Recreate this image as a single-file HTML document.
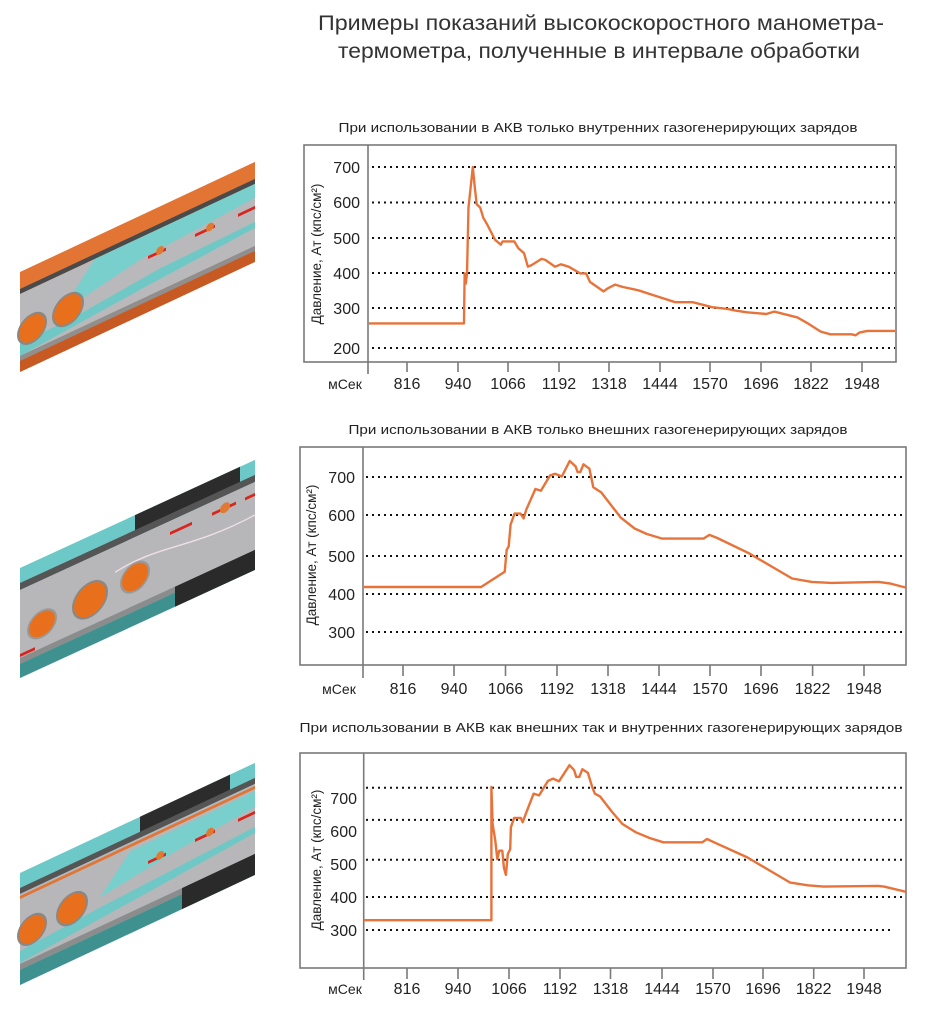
<!DOCTYPE html>
<html><head><meta charset="utf-8"><style>
html,body{margin:0;padding:0;background:#fff}
svg{display:block}
text{font-family:"Liberation Sans",sans-serif;fill:#222}
.t{font-size:16px}
.g{stroke:#111;stroke-width:2;stroke-dasharray:2 4;fill:none}
.s{stroke:#e8733a;stroke-width:2.4;fill:none;stroke-linejoin:round}
.f{stroke:#7a7a7a;stroke-width:1.6;fill:none}
</style></head><body>
<svg width="938" height="1012" viewBox="0 0 938 1012" xmlns="http://www.w3.org/2000/svg">
<rect width="938" height="1012" fill="#fff"/>
<text x="601" y="30" font-size="21" text-anchor="middle" textLength="566" lengthAdjust="spacingAndGlyphs" style="fill:#333">Примеры показаний высокоскоростного манометра-</text>
<text x="599" y="58" font-size="21" text-anchor="middle" textLength="522" lengthAdjust="spacingAndGlyphs" style="fill:#333">термометра, полученные в интервале обработки</text>
<text x="598" y="132" font-size="13" text-anchor="middle" textLength="519" lengthAdjust="spacingAndGlyphs">При использовании в АКВ только внутренних газогенерирующих зарядов</text>
<text x="598" y="434" font-size="13" text-anchor="middle" textLength="499" lengthAdjust="spacingAndGlyphs">При использовании в АКВ только внешних газогенерирующих зарядов</text>
<text x="601" y="732" font-size="13" text-anchor="middle" textLength="603" lengthAdjust="spacingAndGlyphs">При использовании в АКВ как внешних так и внутренних газогенерирующих зарядов</text>

<!-- Chart 1 -->
<rect x="304" y="145" width="592" height="217" class="f"/>
<line x1="368" y1="145" x2="368" y2="374" class="f"/>
<g class="g"><line x1="372" y1="167" x2="895" y2="167"/><line x1="372" y1="202.5" x2="895" y2="202.5"/><line x1="372" y1="238" x2="895" y2="238"/><line x1="372" y1="273" x2="895" y2="273"/><line x1="372" y1="308" x2="895" y2="308"/><line x1="372" y1="348" x2="895" y2="348"/></g>
<g class="t" text-anchor="end"><text x="360" y="173">700</text><text x="360" y="208">600</text><text x="360" y="244">500</text><text x="360" y="279">400</text><text x="360" y="314">300</text><text x="360" y="354">200</text></g>
<g class="f"><line x1="407" y1="362" x2="407" y2="372"/><line x1="458" y1="362" x2="458" y2="372"/><line x1="508" y1="362" x2="508" y2="372"/><line x1="559" y1="362" x2="559" y2="372"/><line x1="609" y1="362" x2="609" y2="372"/><line x1="660" y1="362" x2="660" y2="372"/><line x1="710" y1="362" x2="710" y2="372"/><line x1="761" y1="362" x2="761" y2="372"/><line x1="811" y1="362" x2="811" y2="372"/><line x1="862" y1="362" x2="862" y2="372"/></g>
<g class="t" text-anchor="middle"><text x="345" y="389" font-size="14">мСек</text><text x="407" y="389">816</text><text x="458" y="389">940</text><text x="508" y="389">1066</text><text x="559" y="389">1192</text><text x="609" y="389">1318</text><text x="660" y="389">1444</text><text x="710" y="389">1570</text><text x="761" y="389">1696</text><text x="811" y="389">1822</text><text x="862" y="389">1948</text></g>
<text transform="translate(321,254) rotate(-90)" font-size="13.5" text-anchor="middle">Давление, Ат (кпс/см²)</text>
<g transform="translate(369,0) scale(0.985,1) translate(-369,0)">
<polyline class="s" points="369,323.4 465.4,323.4 466.1,273.4 467.3,283.6 468.5,273.4 470,207.6 474.4,167 476.4,187.3 478.3,204.2 481.9,207.6 485,217.7 489,224.5 496.9,239.7 502.8,244.7 504.7,241.4 516.5,241.4 520.5,248.1 526.4,253.2 530.3,266.7 534.3,265 544.1,258.9 548,259.9 557.9,266.7 563.8,264.3 571.7,266.7 583.5,273.4 589.4,273.4 593.3,281.9 603.1,288.6 607.1,291.4 611,288.6 618.9,284.6 626.8,287 642.5,290.3 658.3,295.4 679.9,302.2 697.6,302.2 717.3,307.2 733.1,308.9 740.9,310.6 752.8,312.3 772.4,314 780.3,311.6 803.9,317.4 815.7,324.1 827.6,331.6 837.4,334.3 859.1,334.3 863,335.3 866.9,332.6 874.8,330.9 903,330.9"/>
</g>

<!-- Chart 2 -->
<rect x="300" y="447" width="606" height="218" class="f"/>
<line x1="363" y1="447" x2="363" y2="678" class="f"/>
<g class="g"><line x1="366" y1="477" x2="905" y2="477"/><line x1="366" y1="515" x2="905" y2="515"/><line x1="366" y1="556" x2="905" y2="556"/><line x1="366" y1="594" x2="905" y2="594"/><line x1="366" y1="632" x2="905" y2="632"/></g>
<g class="t" text-anchor="end"><text x="355" y="483">700</text><text x="355" y="521">600</text><text x="355" y="562">500</text><text x="355" y="600">400</text><text x="355" y="638">300</text></g>
<g class="f"><line x1="403" y1="665" x2="403" y2="676"/><line x1="454" y1="665" x2="454" y2="676"/><line x1="505.5" y1="665" x2="505.5" y2="676"/><line x1="557" y1="665" x2="557" y2="676"/><line x1="608" y1="665" x2="608" y2="676"/><line x1="659" y1="665" x2="659" y2="676"/><line x1="710" y1="665" x2="710" y2="676"/><line x1="761" y1="665" x2="761" y2="676"/><line x1="812.6" y1="665" x2="812.6" y2="676"/><line x1="864" y1="665" x2="864" y2="676"/></g>
<g class="t" text-anchor="middle"><text x="339" y="694" font-size="14">мСек</text><text x="403" y="694">816</text><text x="454" y="694">940</text><text x="505.5" y="694">1066</text><text x="557" y="694">1192</text><text x="608" y="694">1318</text><text x="659" y="694">1444</text><text x="710" y="694">1570</text><text x="761" y="694">1696</text><text x="812.6" y="694">1822</text><text x="864" y="694">1948</text></g>
<text transform="translate(316,555) rotate(-90)" font-size="13.5" text-anchor="middle">Давление, Ат (кпс/см²)</text>
<polyline class="s" points="363,587 481.1,587 504.7,571.8 506.7,549.8 508.7,546.4 510.6,524.5 514.6,513.6 520.5,513.6 523.6,518.4 526.4,509.3 535.4,489 540.9,490.7 550,475.5 555.1,473.8 561.8,476.5 569.7,461 575.6,466.4 577.6,472.1 580.3,472.1 583.5,464.3 589.4,468.7 593.3,487.3 601.2,492.4 613,507.6 620.9,517.7 634.6,528.5 646.5,533.9 662.2,538.6 703.5,538.6 709.4,534.9 717.3,538 748.8,553.2 792.1,578.5 811.8,581.9 831.5,582.9 878.7,581.9 890.6,583.6 906,587.6"/>

<!-- Chart 3 -->
<rect x="300" y="753" width="606" height="215" class="f"/>
<line x1="363.7" y1="753" x2="363.7" y2="980" class="f"/>
<g class="g"><line x1="366" y1="787.7" x2="905" y2="787.7"/><line x1="366" y1="819.9" x2="905" y2="819.9"/><line x1="366" y1="859.8" x2="905" y2="859.8"/><line x1="366" y1="897" x2="905" y2="897"/><line x1="366" y1="930" x2="890" y2="930"/></g>
<g class="t" text-anchor="end"><text x="357" y="804">700</text><text x="357" y="837">600</text><text x="357" y="870">500</text><text x="357" y="903">400</text><text x="357" y="936">300</text></g>
<g class="f"><line x1="407" y1="968" x2="407" y2="979"/><line x1="458" y1="968" x2="458" y2="979"/><line x1="509" y1="968" x2="509" y2="979"/><line x1="560" y1="968" x2="560" y2="979"/><line x1="610.5" y1="968" x2="610.5" y2="979"/><line x1="662" y1="968" x2="662" y2="979"/><line x1="713" y1="968" x2="713" y2="979"/><line x1="763" y1="968" x2="763" y2="979"/><line x1="813.7" y1="968" x2="813.7" y2="979"/><line x1="864" y1="968" x2="864" y2="979"/></g>
<g class="t" text-anchor="middle"><text x="345" y="994" font-size="14">мСек</text><text x="407" y="994">816</text><text x="458" y="994">940</text><text x="509" y="994">1066</text><text x="560" y="994">1192</text><text x="610.5" y="994">1318</text><text x="662" y="994">1444</text><text x="713" y="994">1570</text><text x="763" y="994">1696</text><text x="813.7" y="994">1822</text><text x="864" y="994">1948</text></g>
<text transform="translate(321,860) rotate(-90)" font-size="13.5" text-anchor="middle">Давление, Ат (кпс/см²)</text>
<polyline class="s" points="363.7,920.2 491.4,920.2 491.4,787 492.6,823.9 495.3,840.7 497.3,859.1 499.2,850.7 502.3,850.7 503.9,867.5 505.9,874.9 507.8,854.1 510.2,849.1 510.9,827.2 514.1,817.9 520.7,817.9 522.7,822.2 525.8,813.8 533.6,793.7 539.1,795.4 548,780.9 553.1,778.6 559,781.3 569.5,765.2 574.2,770.2 576.2,776.9 579.3,776.9 582.4,769.2 587.9,772.9 592.2,787 594.9,793.7 600,796.4 611.7,811.5 622.3,823.9 635.9,832.3 649.6,838 663.3,842.3 702.3,842.3 707,839 714.1,842.3 747.3,857.4 790.2,882.6 807.8,885.3 823.4,886.6 878.1,885.9 884,886.6 905.5,891.7"/>

<!-- Illustration 1 -->
<g transform="translate(20,272) skewY(-25.1)">
<rect x="0" y="0" width="235" height="100" fill="#e27434"/>
<rect x="0" y="17" width="235" height="5" fill="#4a4a4a"/>
<rect x="0" y="22" width="235" height="62" fill="#b9b9bb"/>
<polygon points="75,22 235,22 235,36 120,44 40,60" fill="#78cfcc"/>
<polygon points="0,72 60,70 140,62 235,60 235,66 120,74 0,84" fill="#70c8c6"/>
<rect x="0" y="84" width="235" height="5" fill="#8f8f8f"/>
<rect x="0" y="89" width="235" height="11" fill="#c75a22"/>
<ellipse cx="12" cy="62" rx="14" ry="14" fill="#e8701c" stroke="#888" stroke-width="2"/>
<ellipse cx="48" cy="60" rx="15" ry="15" fill="#e8701c" stroke="#888" stroke-width="2"/>
<g fill="#d8261e"><rect x="128" y="44" width="18" height="3"/><rect x="175" y="44" width="20" height="3"/><rect x="218" y="44" width="17" height="3"/></g>
<g fill="#e07a30"><circle cx="140" cy="44" r="4"/><circle cx="190" cy="44" r="4"/></g>
</g>

<!-- Illustration 2 -->
<g transform="translate(20,568) skewY(-24.7)">
<rect x="0" y="0" width="235" height="110" fill="#6cc9c7"/>
<rect x="115" y="0" width="105" height="16" fill="#2c2c2c"/>
<rect x="0" y="15" width="235" height="7" fill="#555"/>
<rect x="0" y="22" width="235" height="68" fill="#b7b7b9"/>
<path d="M95,48 C140,40 170,60 235,55" stroke="#f0e0e8" stroke-width="1.5" fill="none"/>
<rect x="0" y="90" width="235" height="6" fill="#8c8c8c"/>
<rect x="0" y="96" width="235" height="14" fill="#3f9190"/>
<rect x="155" y="90" width="80" height="20" fill="#2a2a2a"/>
<ellipse cx="22" cy="66" rx="14" ry="13" fill="#e8701c" stroke="#999" stroke-width="2"/>
<ellipse cx="70" cy="64" rx="17" ry="17" fill="#e8701c" stroke="#888" stroke-width="2"/>
<ellipse cx="115" cy="62" rx="14" ry="14" fill="#e8701c" stroke="#999" stroke-width="2"/>
<g fill="#d8261e"><rect x="150" y="33" width="22" height="3"/><rect x="192" y="33" width="24" height="3"/><rect x="225" y="33" width="10" height="3"/><rect x="0" y="86" width="15" height="3"/></g>
<circle cx="205" cy="34" r="5" fill="#e07a30"/>
</g>

<!-- Illustration 3 -->
<g transform="translate(20,873) skewY(-25.1)">
<rect x="0" y="0" width="235" height="112" fill="#6cc9c7"/>
<rect x="120" y="0" width="90" height="16" fill="#2c2c2c"/>
<rect x="0" y="15" width="235" height="6" fill="#555"/>
<rect x="0" y="21" width="235" height="70" fill="#b7b7b9"/>
<rect x="0" y="23" width="235" height="3" fill="#e27434"/>
<polygon points="110,30 235,28 235,44 150,52 80,62" fill="#78cfcc"/>
<polygon points="0,78 80,72 235,64 235,70 120,80 0,90" fill="#70c8c6"/>
<rect x="0" y="91" width="235" height="6" fill="#8c8c8c"/>
<rect x="0" y="97" width="235" height="15" fill="#3f9190"/>
<rect x="162" y="91" width="73" height="21" fill="#2a2a2a"/>
<ellipse cx="12" cy="62" rx="14" ry="14" fill="#e8701c" stroke="#888" stroke-width="2"/>
<ellipse cx="52" cy="60" rx="15" ry="15" fill="#e8701c" stroke="#888" stroke-width="2"/>
<g fill="#d8261e"><rect x="128" y="48" width="18" height="3"/><rect x="175" y="48" width="20" height="3"/><rect x="218" y="48" width="17" height="3"/></g>
<g fill="#e07a30"><circle cx="140" cy="48" r="4"/><circle cx="190" cy="48" r="4"/></g>
</g>
</svg>
</body></html>
